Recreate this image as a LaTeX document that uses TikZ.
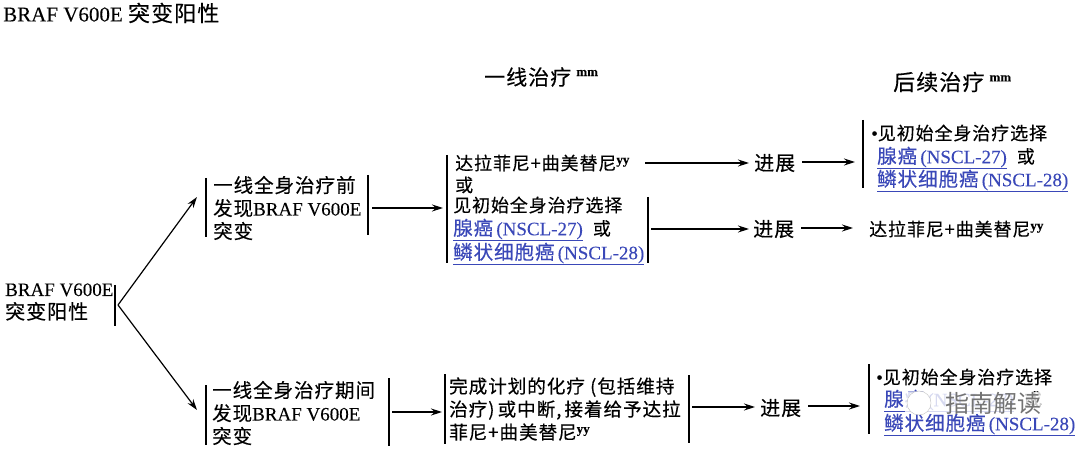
\documentclass[tikz,border=0pt]{standalone}
\usepackage{fontspec}
\usetikzlibrary{arrows.meta}
\setmainfont[FakeBold=0.15]{Liberation Serif}
\newfontfamily\cjk[LetterSpace=5,FakeBold=0.35]{Noto Sans CJK SC}
\newfontfamily\markfont{Noto Sans CJK SC}
\newcommand{\zh}[2][18]{{\fontsize{#1}{23}\selectfont\cjk #2}}
\newcommand{\lk}[1]{\textcolor{linkblue}{\underline{#1}}}
\newcommand{\supyy}{\raisebox{6pt}{\fontsize{13}{13}\selectfont\bfseries yy}}
\newcommand{\supmm}{\raisebox{9pt}{\fontsize{13}{13}\selectfont\bfseries mm}}
\definecolor{linkblue}{HTML}{3A48B8}
\tikzset{
  lbl/.style={anchor=west, inner sep=0pt, align=left, font=\fontsize{19}{23}\selectfont},
  barline/.style={black, line width=1.1pt},
  arr/.style={black, line width=1.2pt, -{Stealth[length=11pt, width=7pt]}}
}
\begin{document}
\begin{tikzpicture}[x=1pt, y=-1pt]
        \useasboundingbox (0,0) rectangle (1080,449);
        % titles
        \node[lbl, font=\fontsize{21}{23}\selectfont] (title) at (3,13) {BRAF V600E \zh[22]{突变阳性}};
        \node[lbl] (headfirst) at (484,77) {\zh[21]{一线治疗}\hspace{5pt}\supmm};
        \node[lbl] (headnext) at (893,82) {\zh[22]{后续治疗}\hspace{5pt}\supmm};
        % bars
        \foreach \bx/\ya/\yb in {115/285/326, 206/178/237, 368/175/235, 447/155/263, 648/197/263, 863/120/188,
                                 206/385/445, 389/378/446, 445/374/444, 689/375/443, 869/364/434} {
          \draw[barline] (\bx,\ya) -- (\bx,\yb);
        }
        % left column
        \node[lbl] (pos) at (5,302) {BRAF V600E\\\zh[20]{突变阳性}};
        \node[lbl] (before) at (213,208) {\zh[19.5]{一线全身治疗前}\\\zh[19.5]{发现}BRAF V600E\\\zh[19.5]{突变}};
        \node[lbl] (during) at (212,413) {\zh[19.5]{一线全身治疗期间}\\\zh[19.5]{发现}BRAF V600E\\\zh[19.5]{突变}};
        % first line
        \node[lbl] (dt) at (455,163) {\zh{达拉菲尼+曲美替尼}\supyy};
        \node[lbl] (or) at (455,185) {\zh{或}};
        \node[lbl] (see) at (453,205) {\zh{见初始全身治疗选择}};
        \node[lbl] (adeno) at (453,230) {\lk{\zh[19.5]{腺癌}\,(NSCL-27)}\hspace{10pt}\zh{或}};
        \node[lbl] (squam) at (453,254) {\lk{\zh[19.5]{鳞状细胞癌}\,(NSCL-28)}};
        \node[lbl] (chemo) at (449,409) {\zh[18.6]{完成计划的化疗 (包括维持}\\\zh[18.6]{治疗)\,或中断,\,接着给予达拉}\\\zh[18.6]{菲尼+曲美替尼}\supyy};
        % progression
        \node[lbl] (progtop) at (754,163) {\zh[20]{进展}};
        \node[lbl] (progmid) at (753,229) {\zh[20]{进展}};
        \node[lbl] (proglow) at (760,408) {\zh[20]{进展}};
        % subsequent
        \node[lbl] (nexttop) at (871,133) {\textbullet\zh{见初始全身治疗选择}};
        \node[lbl] (nextadeno) at (877,158) {\lk{\zh[19.5]{腺癌}\,(NSCL-27)}\hspace{10pt}\zh{或}};
        \node[lbl] (nextsquam) at (877,181) {\lk{\zh[19.5]{鳞状细胞癌}\,(NSCL-28)}};
        \node[lbl] (nextdt) at (869,229) {\zh{达拉菲尼+曲美替尼}\supyy};
        \node[lbl] (lowtop) at (876,377) {\textbullet\zh{见初始全身治疗选择}};
        \node[lbl] (lowadeno) at (884,401) {\lk{\zh[19.5]{腺癌}\,(NSCL-27)}\hspace{10pt}\zh{或}};
        \node[lbl] (lowsquam) at (884,425) {\lk{\zh[19.5]{鳞状细胞癌}\,(NSCL-28)}};
        % watermark
        \node[lbl, fill=white, fill opacity=.8, text opacity=1, text=black!55, minimum height=16pt, font=\fontsize{24}{24}\selectfont\markfont] (mark) at (905,403) {\hspace{40pt}指南解读};
        \draw[black!25, fill=white] (919,403) circle (12);
        % connector ends
        \foreach \nm/\cx/\cy in {posout/118/305, uphit/197/197, lowhit/197/410, aout/372/208, bin/443/208,
                                 dtout/645/163, bout/651/229, duringout/392/412, cin/442/412, cout/692/407,
                                 bartop/855/162, barmid/853/228, barlow/860/406} {
          \coordinate (\nm) at (\cx,\cy);
        }
        \draw[arr] (posout) -- (uphit);
        \draw[arr] (posout) -- (lowhit);
        \draw[arr] (aout) -- (bin);
        \draw[arr] (duringout) -- (cin);
        \draw[arr, shorten >=5pt] (dtout) -- (dtout -| progtop.west);
        \draw[arr, shorten >=4pt] (bout) -- (bout -| progmid.west);
        \draw[arr, shorten >=5pt] (cout) -- (cout -| proglow.west);
        \draw[arr, shorten <=7pt] (progtop.east |- bartop) -- (bartop);
        \draw[arr, shorten <=7pt] (progmid.east |- barmid) -- (barmid);
        \draw[arr, shorten <=7pt] (proglow.east |- barlow) -- (barlow);
      \end{tikzpicture}
\end{document}
